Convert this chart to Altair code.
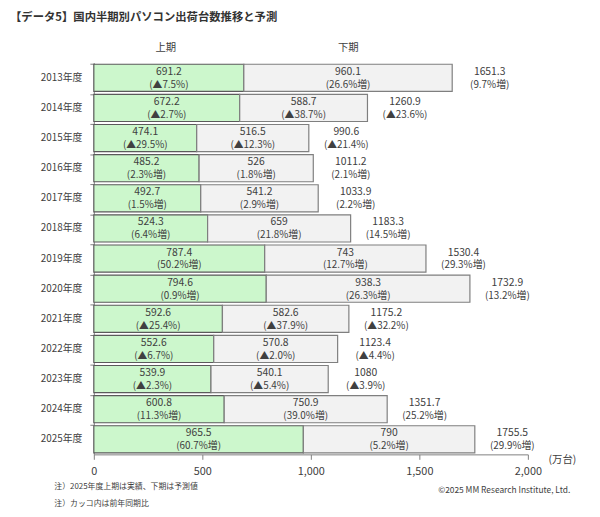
import altair as alt
import pandas as pd

years = ["2013年度", "2014年度", "2015年度", "2016年度", "2017年度", "2018年度", "2019年度",
         "2020年度", "2021年度", "2022年度", "2023年度", "2024年度", "2025年度"]
h1 = [691.2, 672.2, 474.1, 485.2, 492.7, 524.3, 787.4, 794.6, 592.6, 552.6, 539.9, 600.8, 965.5]
h1_lbl = ["691.2", "672.2", "474.1", "485.2", "492.7", "524.3", "787.4", "794.6", "592.6", "552.6", "539.9", "600.8", "965.5"]
h1_chg = ["▲7.5%", "▲2.7%", "▲29.5%", "2.3%増", "1.5%増", "6.4%増", "50.2%増", "0.9%増",
          "▲25.4%", "▲6.7%", "▲2.3%", "11.3%増", "60.7%増"]
h2 = [960.1, 588.7, 516.5, 526, 541.2, 659, 743, 938.3, 582.6, 570.8, 540.1, 750.9, 790]
h2_lbl = ["960.1", "588.7", "516.5", "526", "541.2", "659", "743", "938.3", "582.6", "570.8", "540.1", "750.9", "790"]
h2_chg = ["26.6%増", "▲38.7%", "▲12.3%", "1.8%増", "2.9%増", "21.8%増", "12.7%増", "26.3%増",
          "▲37.9%", "▲2.0%", "▲5.4%", "39.0%増", "5.2%増"]
total_lbl = ["1651.3", "1260.9", "990.6", "1011.2", "1033.9", "1183.3", "1530.4", "1732.9",
             "1175.2", "1123.4", "1080", "1351.7", "1755.5"]
total_chg = ["9.7%増", "▲23.6%", "▲21.4%", "2.1%増", "2.2%増", "14.5%増", "29.3%増", "13.2%増",
             "▲32.2%", "▲4.4%", "▲3.9%", "25.2%増", "29.9%増"]
x_ticks = [0, 500, 1000, 1500, 2000]

FONT = "Noto Sans CJK JP"
TXT = "#404040"

rows = []
for i, y in enumerate(years):
    rows.append(dict(year=y, period="上期", start=0, end=h1[i], lbl=h1_lbl[i], chg="(" + h1_chg[i] + ")"))
    rows.append(dict(year=y, period="下期", start=h1[i], end=h1[i] + h2[i], lbl=h2_lbl[i], chg="(" + h2_chg[i] + ")"))
df = pd.DataFrame(rows)
tot = pd.DataFrame(dict(year=years, total=[a + b for a, b in zip(h1, h2)], lbl=total_lbl,
                        chg=["(" + c + ")" for c in total_chg]))

xs = alt.Scale(domain=[0, 2000], nice=False)
ys = alt.Scale(domain=years, paddingInner=0.1, paddingOuter=0.05)
xaxis = alt.Axis(values=x_ticks, format=",", labelExpr="format(datum.value, ',')", title=None, grid=False,
                 labelFont=FONT, labelFontSize=11, labelColor=TXT, domainColor="#808080",
                 tickColor="#808080", tickSize=5, labelPadding=6, labelFlush=False)
yaxis = alt.Axis(title=None, labelFont=FONT, labelFontSize=10, labelColor=TXT,
                 domainColor="#808080", tickColor="#808080", tickSize=4,
                 bandPosition=0, labelPadding=8)
Y = alt.Y("year:N", scale=ys, sort=years, axis=yaxis)

base = alt.Chart(df)

bars = base.mark_bar(strokeWidth=1.2).encode(
    x=alt.X("start:Q", scale=xs, axis=xaxis),
    x2="end:Q",
    y=Y,
    fill=alt.Fill("period:N", scale=alt.Scale(domain=["上期", "下期"], range=["#ccf7cc", "#f2f2f2"]), legend=None),
    stroke=alt.Stroke("period:N", scale=alt.Scale(domain=["上期", "下期"], range=["#5a5a5a", "#7f7f7f"]), legend=None),
)

mid = base.transform_calculate(mid="(datum.start + datum.end) / 2")
t1 = mid.mark_text(font=FONT, fontSize=10.5, color=TXT, dy=-6).encode(
    x=alt.X("mid:Q", scale=xs, axis=xaxis), y=Y, text="lbl:N")
t2 = mid.mark_text(font=FONT, fontSize=10, color=TXT, dy=7).encode(
    x=alt.X("mid:Q", scale=xs, axis=xaxis), y=Y, text="chg:N")

tb = alt.Chart(tot)
tt1 = tb.mark_text(font=FONT, fontSize=10.5, color=TXT, dx=38, dy=-6).encode(
    x=alt.X("total:Q", scale=xs, axis=xaxis), y=Y, text="lbl:N")
tt2 = tb.mark_text(font=FONT, fontSize=10, color=TXT, dx=38, dy=7).encode(
    x=alt.X("total:Q", scale=xs, axis=xaxis), y=Y, text="chg:N")


def note(text, x, y, size=10, align="left", weight="normal", color=TXT):
    return alt.Chart(pd.DataFrame({"t": [text]})).mark_text(
        font=FONT, fontSize=size, align=align, baseline="middle", fontWeight=weight, color=color
    ).encode(x=alt.value(x), y=alt.value(y), text="t:N")


annos = [
    note("【データ5】国内半期別パソコン出荷台数推移と予測", -85, -45, size=11.5, weight="bold", color="#333333"),
    note("上期", 73, -15, size=10.5, align="center"),
    note("下期", 258, -15, size=10.5, align="center"),
    note("(万台)", 475, 403, size=10.5, align="center"),
    note("注）2025年度上期は実績、下期は予測値", -40, 430, size=8),
    note("注）カッコ内は前年同期比", -40, 447, size=8),
    note("©2025 MM Research Institute, Ltd.", 483, 433, size=8.5, align="right"),
]

chart = alt.layer(bars, t1, t2, tt1, tt2, *annos).properties(
    width=440, height=397,
    autosize=alt.AutoSizeParams(type="none"),
    padding={"left": 87, "top": 52, "right": 65, "bottom": 60},
    background="white",
).configure_view(stroke=None)

chart.save("out.html", embed_options={"renderer": "svg", "actions": False})
